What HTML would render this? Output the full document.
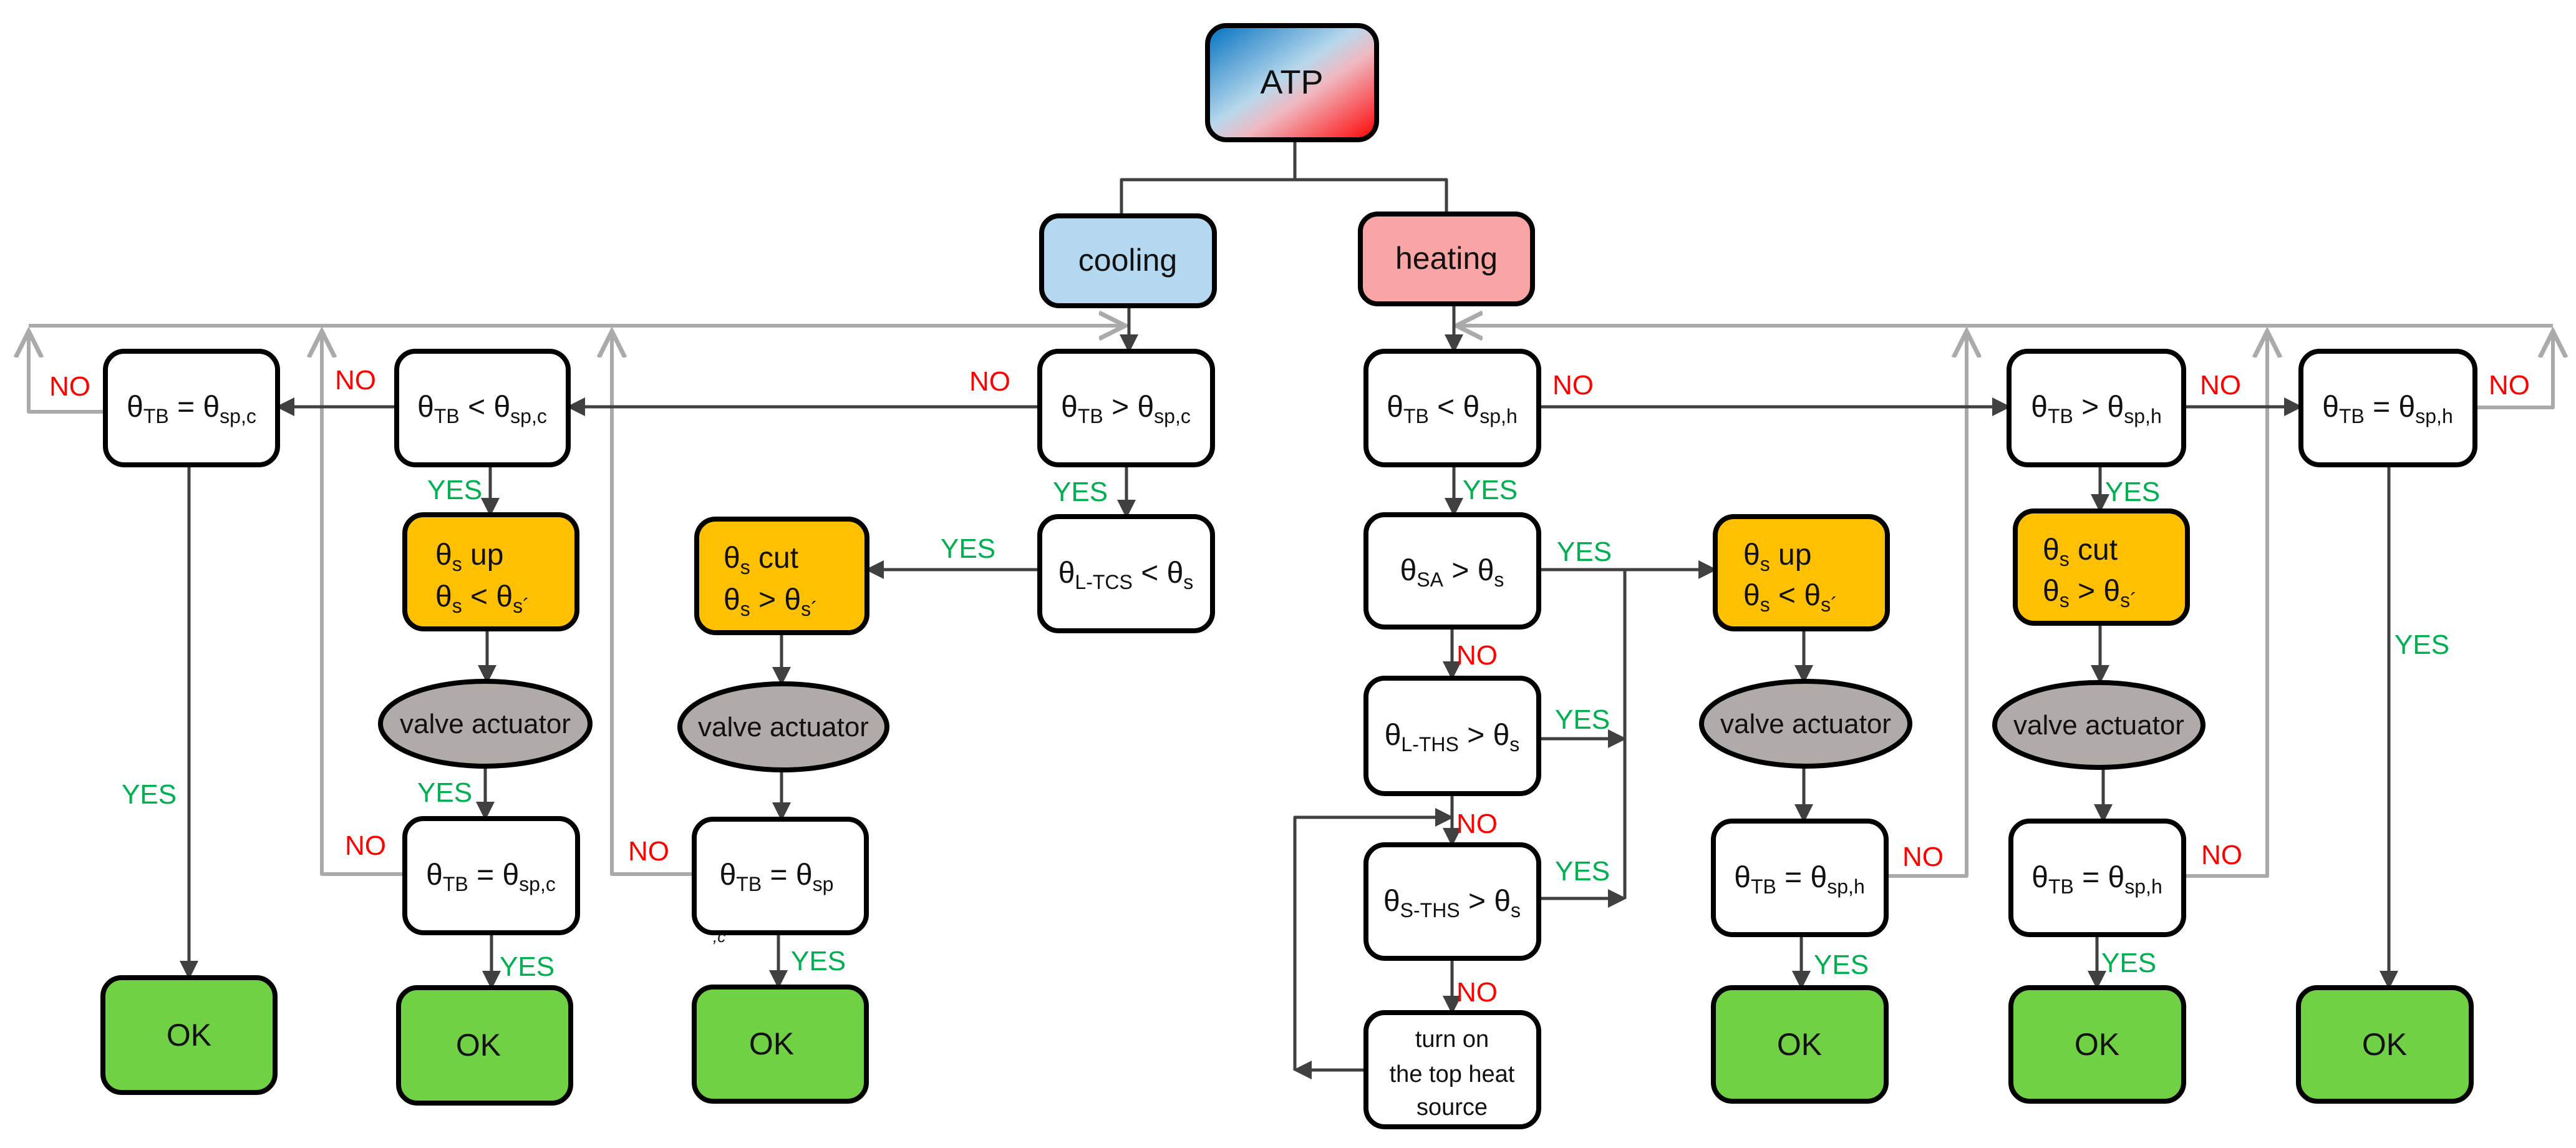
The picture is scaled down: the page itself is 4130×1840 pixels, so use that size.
<!DOCTYPE html>
<html><head><meta charset="utf-8"><style>
html,body{margin:0;padding:0;background:#fff;}
svg{display:block;}
text{font-family:"Liberation Sans",sans-serif;}
.bt{font-size:48px;fill:#111;}
.no{font-size:44px;fill:#ff0000;}
.yes{font-size:44px;fill:#00b050;}
</style></head><body>
<svg width="4130" height="1840" viewBox="0 0 4130 1840" xmlns="http://www.w3.org/2000/svg">
<defs>
<linearGradient id="atp" x1="0" y1="0" x2="1" y2="1">
<stop offset="0" stop-color="#0070c0"/><stop offset="0.45" stop-color="#b8d8ec"/><stop offset="0.6" stop-color="#f0b8c0"/><stop offset="1" stop-color="#ff0000"/>
</linearGradient>
<marker id="ad" markerWidth="6" markerHeight="6" refX="5" refY="3" orient="auto" markerUnits="strokeWidth"><path d="M0,0 L6,3 L0,6 Z" fill="#404040"/></marker>
<marker id="ag" markerWidth="8" markerHeight="8" refX="7" refY="4" orient="auto" markerUnits="strokeWidth"><path d="M0,0.5 L7,4 L0,7.5" fill="none" stroke="#aaa" stroke-width="1.2"/></marker>
</defs>
<g fill="none" stroke-linejoin="round">
<!-- gray feedback lines -->
<g stroke="#aaaaaa" stroke-width="6">
<polyline points="46,522 1804,522" marker-end="url(#ag)"/>
<polyline points="169,660 46,660 46,531" marker-end="url(#ag)"/>
<polyline points="649,1401 516,1401 516,531" marker-end="url(#ag)"/>
<polyline points="1113,1401 981,1401 981,531" marker-end="url(#ag)"/>
<polyline points="4093,522 2335,522" marker-end="url(#ag)"/>
<polyline points="3968,653 4093,653 4093,531" marker-end="url(#ag)"/>
<polyline points="3024,1404 3153,1404 3153,531" marker-end="url(#ag)"/>
<polyline points="3501,1404 3635,1404 3635,531" marker-end="url(#ag)"/>
</g>
<g stroke="#404040" stroke-width="5">
<polyline points="2076,224 2076,288"/>
<polyline points="1798,346 1798,288 2319,288 2319,343"/>
<line x1="1810" y1="490" x2="1810" y2="561" marker-end="url(#ad)"/>
<line x1="1667" y1="652" x2="913" y2="652" marker-end="url(#ad)"/>
<line x1="636" y1="652" x2="447" y2="652" marker-end="url(#ad)"/>
<line x1="786" y1="745" x2="786" y2="823" marker-end="url(#ad)"/>
<line x1="1806" y1="745" x2="1806" y2="826" marker-end="url(#ad)"/>
<line x1="303" y1="745" x2="303" y2="1565" marker-end="url(#ad)"/>
<line x1="1667" y1="913" x2="1392" y2="913" marker-end="url(#ad)"/>
<line x1="781" y1="1008" x2="781" y2="1091" marker-end="url(#ad)"/>
<line x1="1253" y1="1014" x2="1253" y2="1094" marker-end="url(#ad)"/>
<line x1="778" y1="1228" x2="778" y2="1310" marker-end="url(#ad)"/>
<line x1="1253" y1="1234" x2="1253" y2="1311" marker-end="url(#ad)"/>
<line x1="788" y1="1495" x2="788" y2="1581" marker-end="url(#ad)"/>
<line x1="1248" y1="1495" x2="1248" y2="1580" marker-end="url(#ad)"/>
<!-- heating -->
<line x1="2331" y1="487" x2="2331" y2="561" marker-end="url(#ad)"/>
<line x1="2467" y1="652" x2="3219" y2="652" marker-end="url(#ad)"/>
<line x1="3501" y1="652" x2="3687" y2="652" marker-end="url(#ad)"/>
<line x1="2331" y1="745" x2="2331" y2="823" marker-end="url(#ad)"/>
<line x1="2467" y1="913" x2="2748" y2="913" marker-end="url(#ad)"/>
<line x1="2605" y1="913" x2="2605" y2="1440"/>
<line x1="2328" y1="1005" x2="2328" y2="1085" marker-end="url(#ad)"/>
<line x1="2467" y1="1184" x2="2603" y2="1184" marker-end="url(#ad)"/>
<line x1="2328" y1="1272" x2="2328" y2="1352" marker-end="url(#ad)"/>
<line x1="2467" y1="1440" x2="2603" y2="1440" marker-end="url(#ad)"/>
<line x1="2328" y1="1536" x2="2328" y2="1621" marker-end="url(#ad)"/>
<line x1="2190" y1="1715" x2="2078" y2="1715" marker-end="url(#ad)"/>
<polyline points="2076,1715 2076,1310 2326,1310" marker-end="url(#ad)"/>
<line x1="2892" y1="1008" x2="2892" y2="1091" marker-end="url(#ad)"/>
<line x1="2892" y1="1228" x2="2892" y2="1314" marker-end="url(#ad)"/>
<line x1="2888" y1="1498" x2="2888" y2="1581" marker-end="url(#ad)"/>
<line x1="3367" y1="745" x2="3367" y2="817" marker-end="url(#ad)"/>
<line x1="3367" y1="999" x2="3367" y2="1091" marker-end="url(#ad)"/>
<line x1="3372" y1="1228" x2="3372" y2="1314" marker-end="url(#ad)"/>
<line x1="3362" y1="1500" x2="3362" y2="1581" marker-end="url(#ad)"/>
<line x1="3830" y1="745" x2="3830" y2="1581" marker-end="url(#ad)"/>
</g>
</g>
<!-- shapes -->
<g stroke="#000" stroke-width="8">
<rect x="1936" y="41" width="271" height="183" rx="30" fill="url(#atp)"/>
<rect x="1670" y="346" width="277" height="144" rx="28" fill="#b4d8f0"/>
<rect x="2181" y="343" width="276" height="144" rx="28" fill="#f9a5a5"/>
<g fill="#fff">
<rect x="169" y="563" width="276" height="182" rx="30"/>
<rect x="636" y="563" width="275" height="182" rx="30"/>
<rect x="1667" y="563" width="277" height="182" rx="30"/>
<rect x="1667" y="828" width="277" height="183" rx="30"/>
<rect x="649" y="1312" width="277" height="183" rx="30"/>
<rect x="1113" y="1313" width="276" height="182" rx="30"/>
<rect x="2190" y="563" width="277" height="182" rx="30"/>
<rect x="3221" y="563" width="280" height="182" rx="30"/>
<rect x="3689" y="563" width="279" height="182" rx="30"/>
<rect x="2190" y="825" width="277" height="180" rx="30"/>
<rect x="2190" y="1087" width="277" height="185" rx="30"/>
<rect x="2190" y="1354" width="277" height="182" rx="30"/>
<rect x="2190" y="1623" width="277" height="183" rx="30"/>
<rect x="2747" y="1316" width="277" height="182" rx="30"/>
<rect x="3224" y="1316" width="277" height="182" rx="30"/>
</g>
<g fill="#ffc000">
<rect x="649" y="825" width="276" height="183" rx="30"/>
<rect x="1117" y="832" width="273" height="182" rx="30"/>
<rect x="2750" y="828" width="276" height="180" rx="30"/>
<rect x="3231" y="819" width="276" height="180" rx="30"/>
</g>
<g fill="#b0aba9">
<ellipse cx="778" cy="1160" rx="168" ry="68"/>
<ellipse cx="1256" cy="1165" rx="166" ry="69"/>
<ellipse cx="2895" cy="1160" rx="167" ry="68"/>
<ellipse cx="3365" cy="1162" rx="167" ry="68"/>
</g>
<g fill="#6fd143">
<rect x="165" y="1567" width="276" height="184" rx="30"/>
<rect x="639" y="1583" width="276" height="185" rx="30"/>
<rect x="1113" y="1582" width="276" height="183" rx="30"/>
<rect x="2747" y="1583" width="277" height="182" rx="30"/>
<rect x="3224" y="1583" width="277" height="182" rx="30"/>
<rect x="3685" y="1583" width="277" height="182" rx="30"/>
</g>
</g>
<!-- texts -->
<g class="bt" text-anchor="middle">
<text x="2071" y="150" font-size="54">ATP</text>
<text x="1808" y="434" font-size="50">cooling</text>
<text x="2319" y="431" font-size="50">heating</text>
<text x="307" y="668">θ<tspan font-size="32" dy="10">TB</tspan><tspan dy="-10"> = θ</tspan><tspan font-size="32" dy="10">sp,c</tspan></text>
<text x="773" y="668">θ<tspan font-size="32" dy="10">TB</tspan><tspan dy="-10">  &lt; θ</tspan><tspan font-size="32" dy="10">sp,c</tspan></text>
<text x="1805" y="668">θ<tspan font-size="32" dy="10">TB</tspan><tspan dy="-10"> &gt; θ</tspan><tspan font-size="32" dy="10">sp,c</tspan></text>
<text x="1805" y="934">θ<tspan font-size="32" dy="10">L-TCS</tspan><tspan dy="-10"> &lt; θ</tspan><tspan font-size="32" dy="10">s</tspan></text>
<text x="787" y="1418">θ<tspan font-size="32" dy="10">TB</tspan><tspan dy="-10"> = θ</tspan><tspan font-size="32" dy="10">sp,c</tspan></text>
<text x="1245" y="1418">θ<tspan font-size="32" dy="10">TB</tspan><tspan dy="-10"> = θ</tspan><tspan font-size="32" dy="10">sp</tspan></text>
<text x="2328" y="668">θ<tspan font-size="32" dy="10">TB</tspan><tspan dy="-10"> &lt; θ</tspan><tspan font-size="32" dy="10">sp,h</tspan></text>
<text x="3361" y="668">θ<tspan font-size="32" dy="10">TB</tspan><tspan dy="-10"> &gt; θ</tspan><tspan font-size="32" dy="10">sp,h</tspan></text>
<text x="3828" y="668">θ<tspan font-size="32" dy="10">TB</tspan><tspan dy="-10"> = θ</tspan><tspan font-size="32" dy="10">sp,h</tspan></text>
<text x="2328" y="930">θ<tspan font-size="32" dy="10">SA</tspan><tspan dy="-10"> &gt; θ</tspan><tspan font-size="32" dy="10">s</tspan></text>
<text x="2328" y="1194">θ<tspan font-size="32" dy="10">L-THS</tspan><tspan dy="-10"> &gt; θ</tspan><tspan font-size="32" dy="10">s</tspan></text>
<text x="2328" y="1460">θ<tspan font-size="32" dy="10">S-THS</tspan><tspan dy="-10"> &gt; θ</tspan><tspan font-size="32" dy="10">s</tspan></text>
<text x="2885" y="1422">θ<tspan font-size="32" dy="10">TB</tspan><tspan dy="-10"> = θ</tspan><tspan font-size="32" dy="10">sp,h</tspan></text>
<text x="3362" y="1422">θ<tspan font-size="32" dy="10">TB</tspan><tspan dy="-10"> = θ</tspan><tspan font-size="32" dy="10">sp,h</tspan></text>
<g font-size="38">
<text x="2328" y="1678">turn on</text>
<text x="2328" y="1734">the top heat</text>
<text x="2328" y="1787">source</text>
</g>
<g font-size="44">
<text x="778" y="1175">valve actuator</text>
<text x="1256" y="1180">valve actuator</text>
<text x="2895" y="1175">valve actuator</text>
<text x="3365" y="1177">valve actuator</text>
</g>
<g font-size="50">
<text x="303" y="1676">OK</text>
<text x="767" y="1692">OK</text>
<text x="1237" y="1690">OK</text>
<text x="2885" y="1691">OK</text>
<text x="3362" y="1691">OK</text>
<text x="3823" y="1691">OK</text>
</g>
</g>
<g class="bt">
<text x="698" y="905">θ<tspan font-size="32" dy="10">s</tspan><tspan dy="-10"> up</tspan></text>
<text x="698" y="972">θ<tspan font-size="32" dy="10">s</tspan><tspan dy="-10"> &lt; θ</tspan><tspan font-size="32" dy="10">s´</tspan></text>
<text x="1160" y="910">θ<tspan font-size="32" dy="10">s</tspan><tspan dy="-10"> cut</tspan></text>
<text x="1160" y="977">θ<tspan font-size="32" dy="10">s</tspan><tspan dy="-10"> &gt; θ</tspan><tspan font-size="32" dy="10">s´</tspan></text>
<text x="2795" y="905">θ<tspan font-size="32" dy="10">s</tspan><tspan dy="-10"> up</tspan></text>
<text x="2795" y="970">θ<tspan font-size="32" dy="10">s</tspan><tspan dy="-10"> &lt; θ</tspan><tspan font-size="32" dy="10">s´</tspan></text>
<text x="3275" y="897">θ<tspan font-size="32" dy="10">s</tspan><tspan dy="-10"> cut</tspan></text>
<text x="3275" y="963">θ<tspan font-size="32" dy="10">s</tspan><tspan dy="-10"> &gt; θ</tspan><tspan font-size="32" dy="10">s´</tspan></text>
<text x="1143" y="1510" font-size="26" font-style="italic">,c</text>
</g>
<g class="no">
<text x="79" y="634">NO</text>
<text x="537" y="624">NO</text>
<text x="1554" y="626">NO</text>
<text x="553" y="1370">NO</text>
<text x="1007" y="1379">NO</text>
<text x="2489" y="632">NO</text>
<text x="3527" y="632">NO</text>
<text x="3990" y="632">NO</text>
<text x="2335" y="1065">NO</text>
<text x="2335" y="1335">NO</text>
<text x="2335" y="1605">NO</text>
<text x="3050" y="1388">NO</text>
<text x="3529" y="1385">NO</text>
</g>
<g class="yes">
<text x="685" y="800">YES</text>
<text x="1688" y="803">YES</text>
<text x="1508" y="894">YES</text>
<text x="195" y="1288">YES</text>
<text x="669" y="1285">YES</text>
<text x="801" y="1564">YES</text>
<text x="1268" y="1555">YES</text>
<text x="2345" y="800">YES</text>
<text x="3375" y="803">YES</text>
<text x="2496" y="899">YES</text>
<text x="2493" y="1168">YES</text>
<text x="2493" y="1411">YES</text>
<text x="2908" y="1561">YES</text>
<text x="3369" y="1558">YES</text>
<text x="3839" y="1048">YES</text>
</g>
</svg>
</body></html>
